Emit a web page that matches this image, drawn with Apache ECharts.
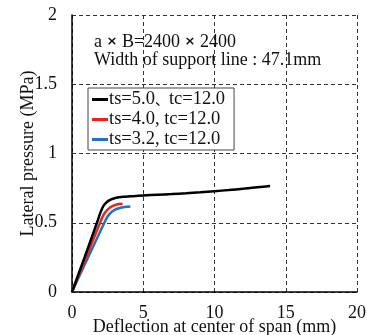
<!DOCTYPE html>
<html>
<head>
<meta charset="utf-8">
<script src="https://cdn.jsdelivr.net/npm/echarts@6/dist/echarts.min.js"></script>
<style>html,body{margin:0;padding:0;background:#fff;}#c{width:367px;height:335px;}</style>
</head>
<body>
<div id="c"></div>
<script>
const xTicks = [0, 5, 10, 15, 20];
const yTicks = [0, 0.5, 1, 1.5, 2];
const seriesNames = ['ts=5.0、 tc=12.0', 'ts=4.0, tc=12.0', 'ts=3.2, tc=12.0'];
const black = [[0,0],[0.9,0.255],[1.75,0.5],[2.0,0.575],[2.2,0.62],[2.45,0.65],[2.75,0.668],[3.1,0.68],[3.6,0.687],[4.3,0.692],[5,0.697],[6,0.702],[7,0.707],[8,0.713],[9,0.72],[10,0.728],[11,0.736],[12,0.746],[13,0.756],[13.9,0.765]];
const red = [[0,0],[1.0,0.255],[1.97,0.5],[2.2,0.555],[2.45,0.59],[2.7,0.612],[3.0,0.627],[3.3,0.635],[3.55,0.638]];
const blue = [[0,0],[1.15,0.255],[2.27,0.5],[2.5,0.545],[2.75,0.575],[3.0,0.593],[3.3,0.605],[3.7,0.614],[4.1,0.618]];
const colors = ['#000000', '#e8231f', '#2171c0'];

const serif = 'Liberation Serif';
const chart = echarts.init(document.getElementById('c'));
const mk = (name, data, color) => ({
  name, type: 'line', data, smooth: 0.2, showSymbol: false, symbol: 'none',
  lineStyle: { color, width: 2.5 }, itemStyle: { color }, animation: false
});
chart.setOption({
  animation: false,
  textStyle: { fontFamily: serif },
  grid: { left: 72, right: 10, top: 15, bottom: 43, containLabel: false, outerBoundsMode: 'none' },
  title: [{
    text: 'a {x|×} B=2400 {x|×} 2400',
    left: 94, top: 33, padding: 0,
    textStyle: { fontFamily: serif, fontSize: 18, fontWeight: 'normal', color: '#111',
      rich: { x: { fontFamily: 'DejaVu Sans', fontSize: 13, fontWeight: 'bold', color: '#111' } } }
  }, {
    text: 'Width of support line : 47.1mm',
    left: 94, top: 51, padding: 0,
    textStyle: { fontFamily: serif, fontSize: 18, fontWeight: 'normal', color: '#111' }
  }],
  legend: {
    orient: 'vertical', left: 88, top: 88,
    data: seriesNames.map(n => ({ name: n, icon: 'rect' })),
    formatter: n => n.replace('、 ', '{c|、}'),
    itemWidth: 16, itemHeight: 3, itemGap: 1,
    padding: [2, 9, 1, 4],
    borderColor: '#444', borderWidth: 1, backgroundColor: '#fff',
    textStyle: { fontFamily: serif, fontSize: 18.5, color: '#111', lineHeight: 18, padding: [0, 0, 0, -4],
      rich: { c: { fontFamily: 'Noto Sans CJK JP', fontSize: 14, color: '#111' } } }
  },
  xAxis: {
    type: 'value', min: xTicks[0], max: xTicks[xTicks.length - 1], interval: xTicks[1] - xTicks[0],
    name: 'Deflection at center of span (mm)', nameLocation: 'middle', nameGap: 26, nameMoveOverlap: false,
    nameTextStyle: { fontFamily: serif, fontSize: 18, color: '#111' },
    axisLine: { show: true, lineStyle: { color: '#000', width: 1.5 } },
    axisTick: { show: false },
    axisLabel: { fontFamily: serif, fontSize: 18, color: '#111', margin: 12 },
    splitLine: { show: true, lineStyle: { color: '#333', width: 1, type: [4, 3] } }
  },
  yAxis: {
    type: 'value', min: yTicks[0], max: yTicks[yTicks.length - 1], interval: yTicks[1] - yTicks[0],
    name: 'Lateral pressure (MPa)', nameLocation: 'middle', nameGap: 35, nameMoveOverlap: false,
    nameTextStyle: { fontFamily: serif, fontSize: 18, color: '#111' },
    axisLine: { show: true, lineStyle: { color: '#000', width: 1.5 } },
    axisTick: { show: false },
    axisLabel: { fontFamily: serif, fontSize: 18, color: '#111', margin: 15 },
    splitLine: { show: true, lineStyle: { color: '#333', width: 1, type: [4, 3] } }
  },
  series: [mk(seriesNames[2], blue, colors[2]), mk(seriesNames[1], red, colors[1]), mk(seriesNames[0], black, colors[0])]
});
</script>
</body>
</html>
